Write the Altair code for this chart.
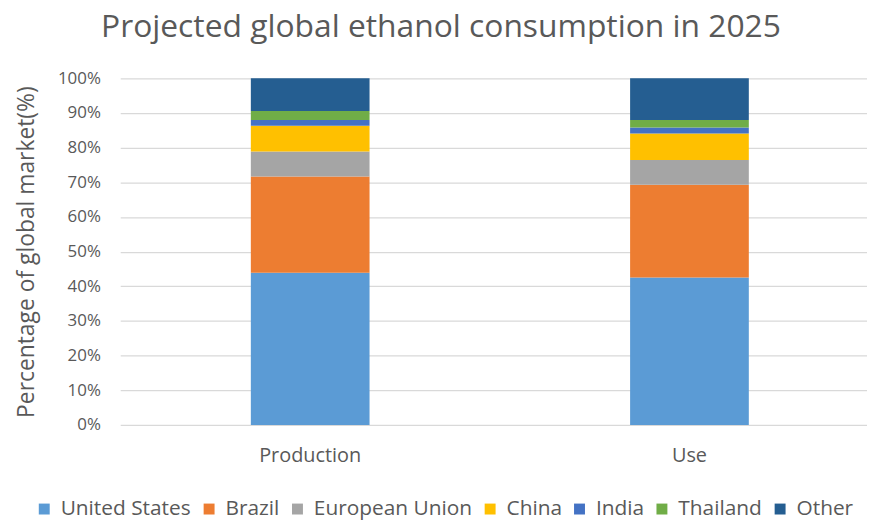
import altair as alt
import pandas as pd

categories = ["Production", "Use"]
regions = ["United States", "Brazil", "European Union", "China", "India", "Thailand", "Other"]
colors = ["#5B9BD5", "#ED7D31", "#A5A5A5", "#FFC000", "#4472C4", "#70AD47", "#255E91"]
production = [43.9, 27.8, 7.2, 7.4, 1.7, 2.6, 9.4]
use = [42.5, 26.8, 7.1, 7.7, 1.7, 2.2, 12.0]
y_ticks = [0, 0.1, 0.2, 0.3, 0.4, 0.5, 0.6, 0.7, 0.8, 0.9, 1.0]

rows = []
for cat, vals in zip(categories, [production, use]):
    for i, (r, v) in enumerate(zip(regions, vals)):
        rows.append({"category": cat, "region": r, "value": v, "order": i})
df = pd.DataFrame(rows)

FONT = "Open Sans"
TXT = "#595959"

chart = alt.Chart(df).mark_bar().encode(
    x=alt.X("category:N", sort=categories, title=None,
            scale=alt.Scale(paddingInner=0.687, paddingOuter=0.328, align=0.525),
            axis=alt.Axis(labelAngle=0, labelFontSize=20, labelColor=TXT, labelFont=FONT,
                          ticks=False, domain=False, labelPadding=21)),
    y=alt.Y("value:Q", stack="normalize", title="Percentage of global market(%)",
            scale=alt.Scale(domain=[0, 1]),
            axis=alt.Axis(format=".0%", values=y_ticks, labelFontSize=17, labelColor=TXT,
                          labelFont=FONT, ticks=False, domain=False, labelPadding=20,
                          gridColor="#D9D9D9", gridWidth=1.2,
                          titleFontSize=23, titleColor=TXT, titleFont=FONT,
                          titleFontWeight="normal", titlePadding=19)),
    color=alt.Color("region:N", sort=regions,
                    scale=alt.Scale(domain=regions, range=colors),
                    legend=alt.Legend(title=None, orient="none", direction="horizontal",
                                      legendX=-87, legendY=423, columns=7,
                                      symbolType="square", symbolSize=121,
                                      symbolStrokeWidth=0, labelFontSize=21,
                                      labelColor=TXT, labelFont=FONT, labelOffset=6,
                                      columnPadding=7)),
    order=alt.Order("order:Q"),
).properties(
    width=752,
    height=349,
    padding={"left": 113, "top": 69, "right": 0, "bottom": 95},
    autosize=alt.AutoSizeParams(type="none"),
    title=alt.TitleParams("Projected global ethanol consumption in 2025",
                          fontSize=32, font=FONT, color=TXT, fontWeight="normal",
                          anchor="middle", offset=26, dx=-53),
).configure_view(stroke=None)

chart.save("out.html", embed_options={"renderer": "svg", "actions": False})
